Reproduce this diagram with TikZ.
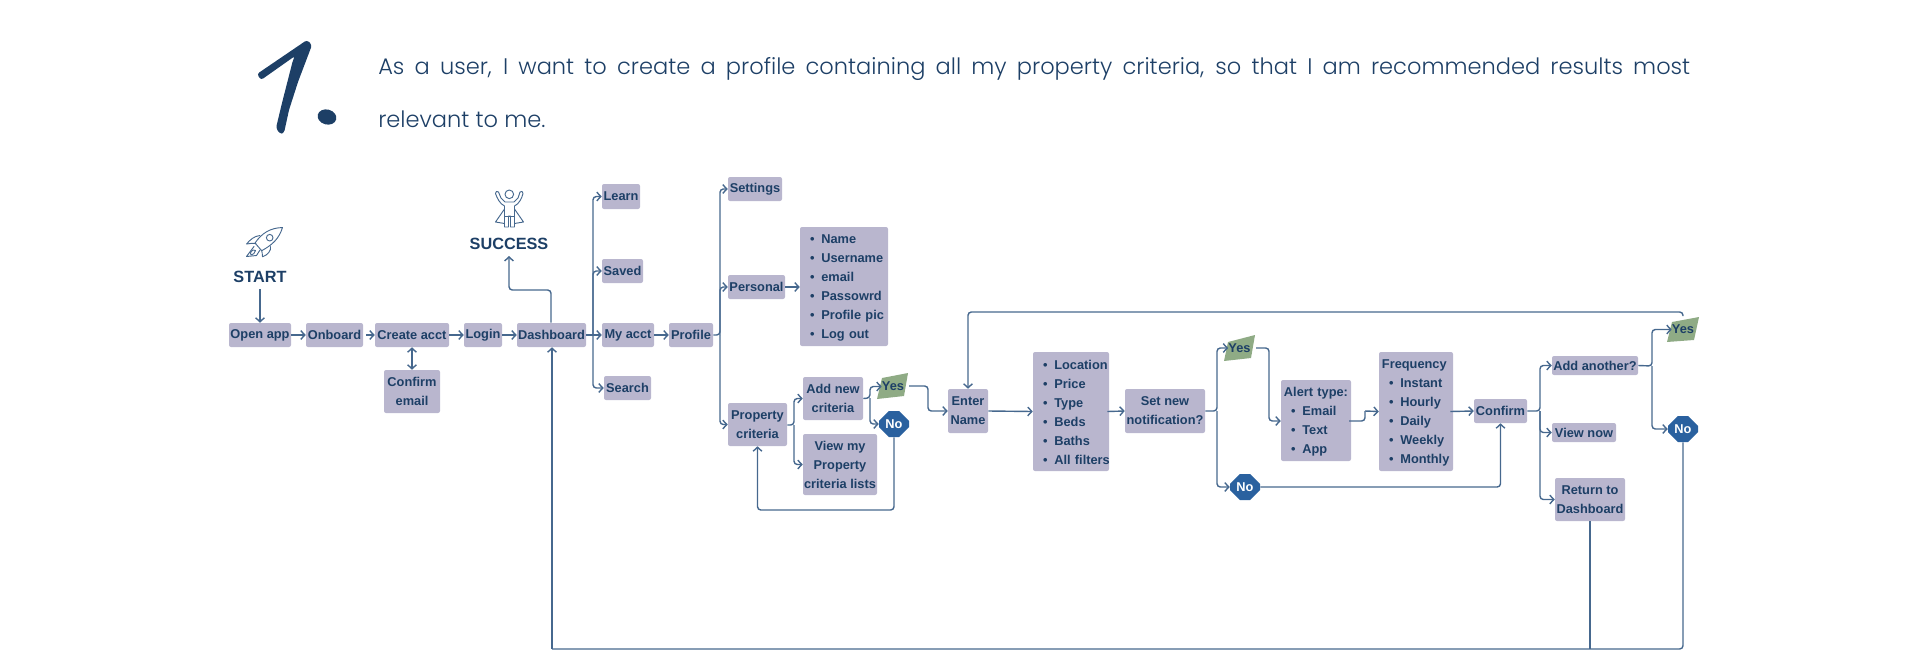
\documentclass[tikz,border=0pt]{standalone}
\usepackage{fontspec}
\setmainfont{Liberation Sans}
\newfontfamily\popf[UprightFont=* Light]{Poppins}
\usetikzlibrary{arrows.meta,shapes.misc}
\definecolor{boxc}{HTML}{B9B6CE}
\definecolor{inkc}{HTML}{1D3F66}
\definecolor{linec}{HTML}{46688E}
\definecolor{yesc}{HTML}{8FAB85}
\definecolor{noc}{HTML}{2A619F}
\tikzset{
  x=0.75pt,y=-0.75pt,
  boxn/.style={fill=boxc,rounded corners=1.5pt,inner sep=0pt,text=inkc,align=center,font=\fontsize{9.6}{14.25}\selectfont\bfseries},
  listn/.style={boxn,align=left},
  conn/.style={draw=linec,line width=1.05pt,rounded corners=2.5pt,-{Straight Barb[length=3pt,width=6.5pt]}},
  plain/.style={draw=linec,line width=1.05pt,rounded corners=2.5pt},
  icon/.style={draw=linec,line width=0.7pt,line join=round,line cap=round},
  labeln/.style={text=inkc,font=\fontsize{12.2}{14}\selectfont\bfseries,inner sep=0pt},
  yesn/.style={text=inkc,inner sep=0pt,font=\fontsize{9.6}{14.25}\selectfont\bfseries},
  non/.style={chamfered rectangle,chamfered rectangle xsep=4pt,chamfered rectangle ysep=4pt,fill=noc,text=white,inner sep=0pt,minimum width=22.5pt,minimum height=19.5pt,font=\fontsize{9.6}{14.25}\selectfont\bfseries},
}
\newcommand{\BX}[6]{\node[boxn,minimum width={(#4-#2)*0.75pt},minimum height={(#5-#3)*0.75pt}] (#1) at ({(#2+#4)/2},{(#3+#5)/2}) {#6};}
\newcommand{\LS}[6]{\node[listn,text width={(#4-#2)*0.75pt},minimum height={(#5-#3)*0.75pt}] (#1) at ({(#2+#4)/2},{(#3+#5)/2}) {\rule{0pt}{8.6pt}#6};}
\newcommand{\lit}[1]{\hspace*{7.5pt}\makebox[8.5pt][l]{\textbullet}\mbox{#1}}
\newcommand{\hd}[1]{\hspace*{2.2pt}\mbox{#1}}
\begin{document}
\begin{tikzpicture}
\useasboundingbox (0,0) rectangle (1920,668);
% heading
\node[anchor=north west,inner sep=0pt,text width=984pt,align=justify,text=inkc,font=\popf\fontsize{16.9}{39.6}\selectfont] (title) at (378,57) {As a user, I want to create a profile containing all my property criteria, so that I am recommended results most\linebreak relevant to me.};
\fill[inkc,rounded corners=2pt] (257,74) -- (307,40) -- (312,45) -- (298,82) -- (289,110) -- (284,133) -- (280,134) -- (276,128) -- (282,103) -- (293,60) -- (295,56) -- (261,80) -- cycle;
\fill[inkc,rotate around={-15:(327,117)}] (327,117) ellipse (9.5 and 7.5);
% rocket
\draw[icon] (282.5,227.5) .. controls (270,228) and (262,233) .. (255,243) -- (261.7,250.7) .. controls (272,245) and (279,239) .. (282.5,227.5) -- cycle;
\draw[icon] (269.7,237.7) circle (3.3);
\draw[icon] (260,235.5) .. controls (254,236) and (250,240) .. (246.5,244) .. controls (250,243.5) and (253,243) .. (256,243.5);
\draw[icon] (270.5,246.5) .. controls (271.5,250) and (268,255) .. (262.5,256.8) .. controls (262.5,254) and (262,252) .. (261.7,250.7);
\draw[icon] (254,246.5) -- (246.5,256.5) -- (256.5,255.5) -- (260,250);
\draw[icon] (253,250) .. controls (250,252) and (250,254) .. (251,255) .. controls (253,255) and (255,253) .. (255.5,250.5) -- cycle;
\node[labeln] (start) at (260,277) {START};
% success figure
\draw[icon] (509.3,194.3) circle (4.3);
\draw[icon] (505,202) -- (501,198) -- (498.5,192) .. controls (497.5,190.5) and (495,191.5) .. (495.5,193.5) .. controls (497,198) and (500,204) .. (504.5,206) -- (504.5,227) -- (508.5,227) -- (508.5,216) -- (510.5,216) -- (510.5,227) -- (514.5,227) -- (514.5,206) .. controls (519,204) and (522,198) .. (523,193.5) .. controls (523.5,191.5) and (521,190.5) .. (520,192) -- (518,198) -- (514,202) -- cycle;
\draw[icon] (504.5,209) -- (495.5,222) -- (504.5,223.5);
\draw[icon] (514.5,209) -- (523.5,222) -- (514.5,223.5);
\draw[icon] (504.5,216) -- (514.5,216);
\node[labeln] (success) at (509,244) {SUCCESS};
% boxes
\BX{open}{229}{323}{291}{347}{Open app}
\BX{onboard}{306}{323}{363}{347}{Onboard}
\BX{create}{375}{323}{449}{347}{Create acct}
\BX{login}{464}{323}{502}{347}{Login}
\BX{dash}{517}{323}{586}{347}{Dashboard}
\BX{myacct}{602}{323}{654}{347}{My acct}
\BX{profile}{669}{323}{713}{347}{Profile}
\BX{confemail}{384}{370}{440}{413}{Confirm\\email}
\BX{learn}{602}{184}{640}{209}{Learn}
\BX{saved}{602}{259}{643}{283}{Saved}
\BX{search}{604}{376}{651}{400}{Search}
\BX{settings}{728}{177}{782}{201}{Settings}
\BX{personal}{728}{275}{785}{299}{Personal}
\LS{perslist}{800}{227}{888}{346}{\lit{Name}\\\lit{Username}\\\lit{email}\\\lit{Passowrd}\\\lit{Profile pic}\\\lit{Log out}}
\BX{prop}{728}{403}{787}{446}{Property\\criteria}
\BX{addnew}{803}{377}{863}{420}{Add new\\criteria}
\BX{viewmy}{803}{434}{877}{495}{View my\\Property\\criteria lists}
\fill[yesc] (882,378) -- (908,373) -- (904,396) -- (877,399) -- cycle;
\node[yesn] (yesa) at (893,386.5) {Yes};
\node[non] (noa) at (894,424) {No};
\BX{enter}{948}{389}{988}{433}{Enter\\Name}
\LS{filters}{1033}{352}{1109}{471}{\lit{Location}\\\lit{Price}\\\lit{Type}\\\lit{Beds}\\\lit{Baths}\\\lit{All filters}}
\BX{setnew}{1125}{389}{1205}{433}{Set new\\notification?}
\fill[yesc] (1228,342) -- (1255,335) -- (1251,358) -- (1224,361) -- cycle;
\node[yesn] (yesb) at (1239.5,348) {Yes};
\node[non] (nob) at (1245,487) {No};
\LS{alert}{1281}{380}{1351}{461}{\hd{Alert type:}\\\lit{Email}\\\lit{Text}\\\lit{App}}
\LS{freq}{1379}{352}{1453}{471}{\hd{Frequency}\\\lit{Instant}\\\lit{Hourly}\\\lit{Daily}\\\lit{Weekly}\\\lit{Monthly}}
\BX{confirm}{1474}{399}{1527}{423}{Confirm}
\BX{another}{1552}{356}{1638}{375}{Add another?}
\BX{viewnow}{1552}{423}{1616}{442}{View now}
\BX{ret}{1555}{478}{1625}{521}{Return to\\Dashboard}
\fill[yesc] (1672,322) -- (1699,317) -- (1694,340) -- (1667,342) -- cycle;
\node[yesn] (yesc) at (1683,329.5) {Yes};
\node[non] (noc) at (1683,429) {No};
% junction points
\coordinate (busa) at (593,335);
\coordinate (busb) at (720,335);
\coordinate (busc) at (794,425);
\coordinate (busd) at (870,398);
\coordinate (buse) at (1217,411);
\coordinate (busf) at (1540,411);
\coordinate (busg) at (1652,366);
\coordinate (floor) at (552,649);
\coordinate (yesaout) at (909,386);
\coordinate (yesbout) at (1256,348);
\coordinate (alertout) at (1349,421);
\coordinate (stepm) at (1365,411);
\coordinate (yescin) at (1683,316);
% connectors
\draw[conn] (start.south |- 0,289) -- (open.north);
\draw[conn] (open.east) -- (onboard.west);
\draw[conn] (onboard.east) ++(3,0) -- (create.west);
\draw[conn] (create.east) -- (login.west);
\draw[conn] (login.east) -- (dash.west);
\draw[conn] (dash.east) -- (myacct.west);
\draw[conn] (myacct.east) -- (profile.west);
\draw[conn,{Straight Barb[length=3pt,width=6.5pt]}-{Straight Barb[length=3pt,width=6.5pt]}] (create.south) -- (create.south |- confemail.north);
\draw[conn] (dash.north) ++(-0.5,0) -- (551,290) -| (success.south |- 0,256);
\draw[conn] (busa) |- (learn.west);
\draw[conn] (busa) |- (saved.west);
\draw[conn] (busa) |- (search.west);
\draw[conn] (profile.east) -- (busb) |- (settings.west);
\draw[conn] (busb) |- (personal.west);
\draw[conn] (busb) |- (prop.west);
\draw[conn] (personal.east) -- (perslist.west |- personal.east);
\draw[conn] (prop.east |- busc) -- (busc) |- (addnew.west);
\draw[conn] (busc) |- (viewmy.west);
\draw[conn] (addnew.east) -- (busd) |- (yesa.west);
\draw[conn] (busd) |- (noa.west);
\draw[conn] (yesaout) -- (928,386) |- (enter.west);
\draw[conn] (noa.south) |- (prop.south |- 0,510) -- (prop.south);
\draw[conn] (enter.east) -- (filters.west);
\draw[conn] (filters.east) ++(-2,0) -- (setnew.west);
\draw[conn] (setnew.east) -- (buse) |- (yesb.west);
\draw[conn] (buse) |- (nob.west);
\draw[conn] (yesbout) -- (1269,348) |- (alert.west |- 0,421);
\draw[plain] (alertout) -- (1365,421) -- (stepm);
\draw[conn] (stepm) -- (freq.west);
\draw[conn] (freq.east) ++(-3,0) -- (confirm.west);
\draw[conn] (nob.east) -| (confirm.south);
\draw[conn] (confirm.east) -- (busf) |- (another.west);
\draw[conn] (busf) |- (viewnow.west);
\draw[conn] (busf) |- (ret.west);
\draw[conn] (another.east) -- (busg) |- (yesc.west);
\draw[conn] (busg) |- (noc.west);
\draw[conn] (yescin) -- (1683,312) -| (enter.north);
\draw[plain] (noc.south) |- (floor);
\draw[conn] (floor) -- (dash.south -| floor);
\draw[plain] (ret.south -| 1590,0) -- (1590,649);
\end{tikzpicture}
\end{document}
